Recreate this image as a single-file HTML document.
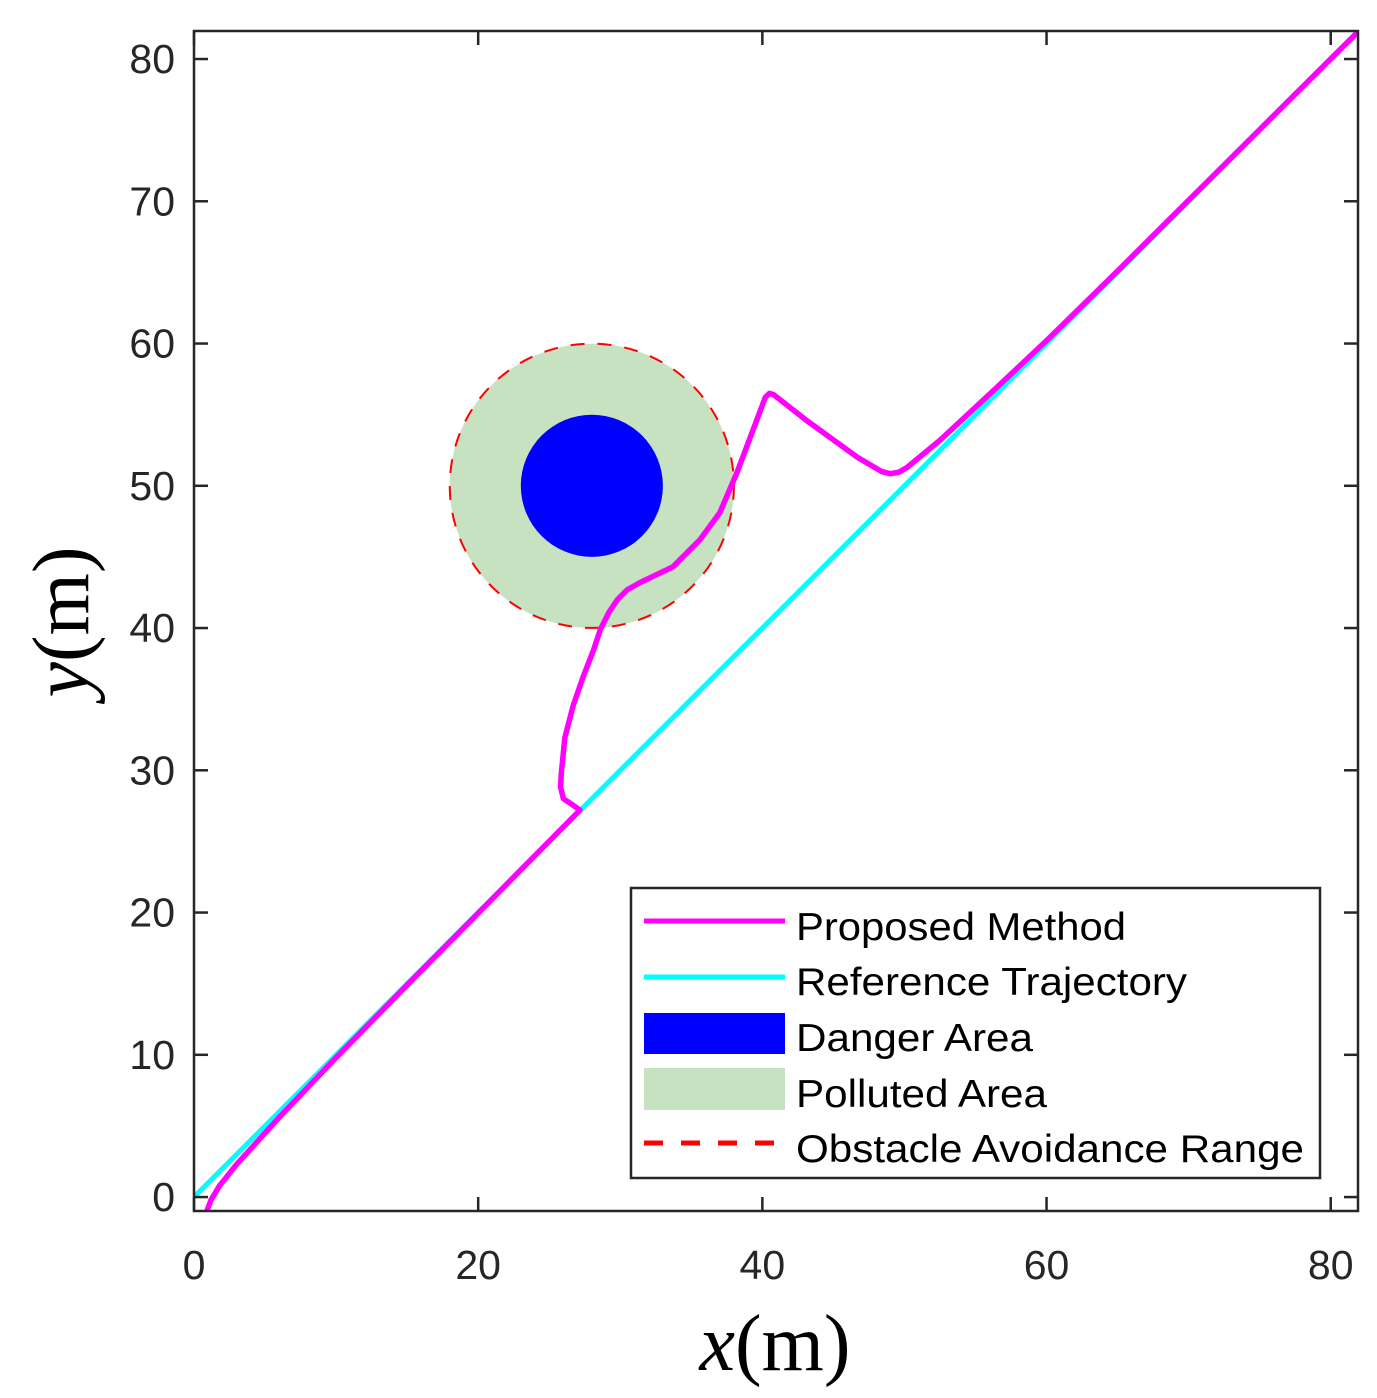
<!DOCTYPE html>
<html><head><meta charset="utf-8"><style>body{margin:0;background:#fff}svg{display:block}</style></head>
<body>
<svg id="chart" width="1377" height="1398" xmlns="http://www.w3.org/2000/svg" font-family="Liberation Sans, sans-serif">
<defs><clipPath id="clip"><rect x="194" y="31" width="1164" height="1180"/></clipPath></defs>
<rect width="1377" height="1398" fill="#fff"/>
<g id="plot" clip-path="url(#clip)"></g>
<g id="axes"></g>
<text x="775" y="1370" font-family="Liberation Serif, serif" font-size="80" text-anchor="middle"><tspan font-style="italic">x</tspan>(m)</text>
<text transform="translate(88,622) rotate(-90)" font-family="Liberation Serif, serif" font-size="80" text-anchor="middle"><tspan font-style="italic">y</tspan>(m)</text>
<g>
<rect x="631" y="888" width="689" height="290" fill="#fff" stroke="#262626" stroke-width="2.5"/>
<line x1="644" y1="921" x2="785" y2="921" stroke="#ff00ff" stroke-width="5"/>
<line x1="644" y1="977" x2="785" y2="977" stroke="#00ffff" stroke-width="5"/>
<rect x="644" y="1013" width="141" height="41" fill="#0000ff"/>
<rect x="644" y="1068" width="141" height="42" fill="#c6e2c0"/>
<line x1="644" y1="1143" x2="785" y2="1143" stroke="#ff0000" stroke-width="5" stroke-dasharray="19,18"/>
<g font-size="39" fill="#000">
<text x="796" y="940" textLength="330" lengthAdjust="spacingAndGlyphs">Proposed Method</text>
<text x="796" y="995" textLength="391" lengthAdjust="spacingAndGlyphs">Reference Trajectory</text>
<text x="796" y="1051" textLength="237" lengthAdjust="spacingAndGlyphs">Danger Area</text>
<text x="796" y="1107" textLength="251" lengthAdjust="spacingAndGlyphs">Polluted Area</text>
<text x="796" y="1162" textLength="508" lengthAdjust="spacingAndGlyphs">Obstacle Avoidance Range</text>
</g></g>
</svg>
<script>
const xTicks=[0,20,40,60,80];
const yTicks=[0,10,20,30,40,50,60,70,80];
const obstacleCenter=[28,50];
const dangerRadius=5;
const pollutedRadius=10;
const refX=[0,82];
const refY=[0,82];
const propX=[0.9,1.2,1.8,3,6,10,15,27.16,26.6,26.0,25.8,25.85,26.1,26.7,27.4,28.1,28.6,29.2,29.8,30.5,31.4,33.7,35.6,37.0,38.2,39.6,40.2,40.5,40.8,43.1,46.7,48.4,49.0,49.6,50.2,52.5,56.7,60.2,65,82];
const propY=[-1,-0.2,0.8,2.3,5.6,9.8,14.9,27.2,27.6,28.0,28.8,29.8,32.3,34.6,36.6,38.4,39.9,41.1,42.0,42.7,43.2,44.3,46.2,48.1,50.9,54.6,56.2,56.5,56.4,54.6,52.0,51.0,50.85,50.95,51.3,53.2,57.1,60.4,65.1,82];
const X0=194,X1=1358,Y0=1211,Y1=31,xmin=0,xmax=81.92,ymin=-0.98,ymax=81.97;
const sx=v=>X0+(v-xmin)/(xmax-xmin)*(X1-X0);
const sy=v=>Y0-(v-ymin)/(ymax-ymin)*(Y0-Y1);
const NS='http://www.w3.org/2000/svg';
function mk(t,a,p){const e=document.createElementNS(NS,t);for(const k in a)e.setAttribute(k,a[k]);p.appendChild(e);return e;}
const plot=document.getElementById('plot'),axes=document.getElementById('axes');
const pr=(sx(pollutedRadius)-sx(0));
let c=mk('circle',{cx:sx(obstacleCenter[0]),cy:sy(obstacleCenter[1]),r:pr,fill:'#c6e2c0'},plot);


c=mk('circle',{cx:sx(obstacleCenter[0]),cy:sy(obstacleCenter[1]),r:sx(dangerRadius)-sx(0),fill:'#0000ff'},plot);


c=mk('circle',{cx:sx(obstacleCenter[0]),cy:sy(obstacleCenter[1]),r:pr,fill:'none',stroke:'#ff0000','stroke-width':2,'stroke-dasharray':'14,13'},plot);


let l=mk('polyline',{points:refX.map((x,i)=>sx(x)+','+sy(refY[i])).join(' '),fill:'none',stroke:'#00ffff','stroke-width':5},plot);


l=mk('polyline',{points:propX.map((x,i)=>sx(x)+','+sy(propY[i])).join(' '),fill:'none',stroke:'#ff00ff','stroke-width':5.5,'stroke-linejoin':'round'},plot);


mk('rect',{x:X0,y:Y1,width:X1-X0,height:Y0-Y1,fill:'none',stroke:'#262626','stroke-width':2.5},axes);
xTicks.forEach(v=>{const x=sx(v);
mk('line',{x1:x,x2:x,y1:Y0,y2:Y0-14,stroke:'#262626','stroke-width':2.5},axes);
mk('line',{x1:x,x2:x,y1:Y1,y2:Y1+14,stroke:'#262626','stroke-width':2.5},axes);
const t=mk('text',{x:x,y:1279,'font-size':41,'text-anchor':'middle',fill:'#262626'},axes);t.textContent=v;

});
yTicks.forEach(v=>{const y=sy(v);
mk('line',{x1:X0,x2:X0+14,y1:y,y2:y,stroke:'#262626','stroke-width':2.5},axes);
mk('line',{x1:X1,x2:X1-14,y1:y,y2:y,stroke:'#262626','stroke-width':2.5},axes);
const t=mk('text',{x:175,y:y+14,'font-size':41,'text-anchor':'end',fill:'#262626'},axes);t.textContent=v;

});
</script>
</body></html>
